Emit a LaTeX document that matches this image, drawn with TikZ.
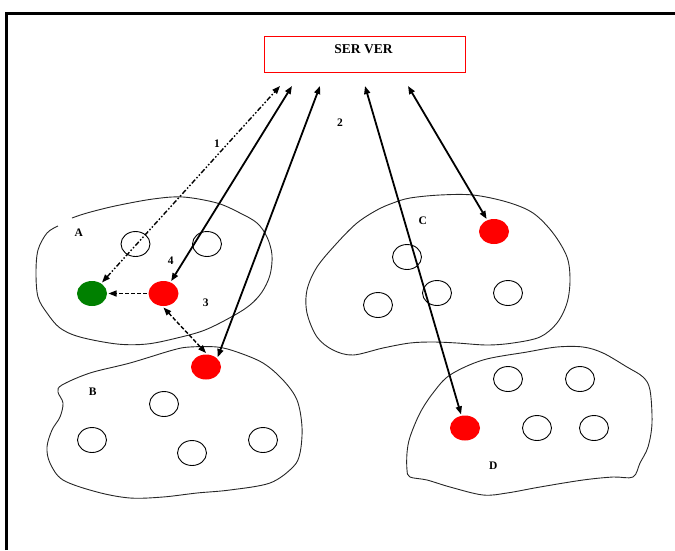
\documentclass[tikz,border=0pt]{standalone}
\usepackage{fontspec}
\setmainfont{Liberation Serif}
\usetikzlibrary{shapes.geometric,arrows.meta}

\begin{document}
\begin{tikzpicture}[x=1pt,y=-1pt,
  blob/.style={draw=black!85,line width=0.9pt},
  host/.style={ellipse,draw=black,line width=0.9pt,minimum width=29pt,minimum height=25pt,inner sep=0pt},
  peer/.style={ellipse,minimum width=30pt,minimum height=25pt,inner sep=0pt,outer sep=1.5pt},
  lbl/.style={font=\fontsize{11.5}{13}\selectfont\bfseries,inner sep=0pt},
  link/.style={line width=1.8pt,{Triangle[length=8pt,width=6pt]}-{Triangle[length=8pt,width=6pt]}},
  hint/.style={line width=1.4pt,dash pattern=on 4pt off 2pt},
]
\useasboundingbox (0,0) rectangle (675,550);

% outer frame
\draw[line width=2.5pt] (6.5,550) -- (6.5,13.5) -- (675,13.5);

% server
\node[draw=red,line width=1pt,minimum width=201pt,minimum height=36pt,inner sep=0pt] (srv) at (364.5,54.5) {};
\node[font=\fontsize{13.5}{15}\selectfont\bfseries,inner sep=0pt] (srvtxt) at (363.5,49) {SER VER};

% attachment points below the server
\coordinate (s1) at (280,86);
\coordinate (s2) at (292,86);
\coordinate (s3) at (320,86);
\coordinate (s4) at (365,86);
\coordinate (s5) at (408,86);

% group A outline (open at the upper left)
\draw[blob] plot[smooth,tension=0.55] coordinates {(72,218) (87,213) (115,206) (153,199) (183,197) (217,203) (240,213) (257,223) (267,237) (272,255) (270,275) (262,292) (250,305) (233,316) (205,330) (177,338) (147,344) (117,344) (80,337) (60,328) (47,313) (38,297) (36,273) (38,250) (47,233) (58,226)};

% group B outline
\draw[blob] plot[smooth cycle,tension=0.55] coordinates {(62,385) (90,373) (130,363) (173,350) (190,347) (217,347) (237,352) (263,363) (283,380) (297,400) (302,427) (300,453) (293,467) (270,483) (230,490) (197,493) (163,497) (130,498) (97,492) (63,480) (50,463) (47,447) (52,430) (60,417) (63,403) (58,392)};

% group C outline
\draw[blob] plot[smooth cycle,tension=0.55] coordinates {(393,203) (410,198) (440,195) (473,195) (507,202) (533,213) (553,233) (567,257) (570,280) (567,303) (557,323) (540,337) (513,343) (487,345) (457,343) (433,342) (410,343) (383,348) (353,355) (333,350) (317,337) (307,313) (307,290) (317,267) (337,243) (357,223) (377,210)};

% group D outline
\draw[blob] plot[smooth cycle,tension=0.55] coordinates {(407,453) (410,437) (420,413) (433,393) (450,375) (483,360) (527,352) (557,347) (583,347) (603,353) (627,367) (643,377) (650,390) (652,423) (648,447) (640,463) (633,477) (613,477) (583,480) (540,487) (507,493) (483,495) (450,487) (427,480) (410,477) (407,470)};

% idle hosts
\node[host] (a1) at (135.5,244) {};
\node[host] (a2) at (207,244) {};
\node[host] (b1) at (164,404) {};
\node[host] (b2) at (92,440) {};
\node[host] (b3) at (192,453) {};
\node[host] (b4) at (263,440) {};
\node[host] (c1) at (407,257) {};
\node[host] (c2) at (437,293) {};
\node[host] (c3) at (378,305) {};
\node[host] (c4) at (508,293) {};
\node[host] (d1) at (508,379) {};
\node[host] (d2) at (580,379) {};
\node[host] (d3) at (537,428) {};
\node[host] (d4) at (594,428) {};

% active peers
\node[peer,fill={rgb,255:red,0;green,128;blue,0}] (gA) at (92,293.5) {};
\node[peer,fill=red] (rA) at (163.5,293.5) {};
\node[peer,fill=red] (rB) at (206,367) {};
\node[peer,fill=red] (rC) at (494,231.5) {};
\node[peer,fill=red] (rD) at (465,428) {};

% labels
\node[lbl] (l1) at (217,143.3) {1};
\node[lbl] (l2) at (340,122.7) {2};
\node[lbl] (l3) at (205.7,302.7) {3};
\node[lbl] (l4) at (170.7,261) {4};
\node[lbl] (lA) at (78.7,232.7) {A};
\node[lbl] (lB) at (92.7,391.7) {B};
\node[lbl] (lC) at (422.7,220.7) {C};
\node[lbl] (lD) at (493.3,466) {D};

% connections
\draw[line width=1.4pt,dash pattern=on 5pt off 2pt on 1.5pt off 2pt on 1.5pt off 2pt,{Triangle[length=8pt,width=6pt]}-{Triangle[length=8pt,width=6pt]}] (gA) -- (s1);
\draw[link] (s2) -- (rA);
\draw[link] (s3) -- (rB.north east);
\draw[link] (s4) -- (rD);
\draw[link] (s5) -- (rC);
\draw[hint,-{Triangle[length=8pt,width=6pt]}] (rA) -- (gA);
\draw[hint,{Triangle[length=8pt,width=6pt]}-{Triangle[length=8pt,width=6pt]}] (rA.south) -- (rB.north);
\end{tikzpicture}
\end{document}
